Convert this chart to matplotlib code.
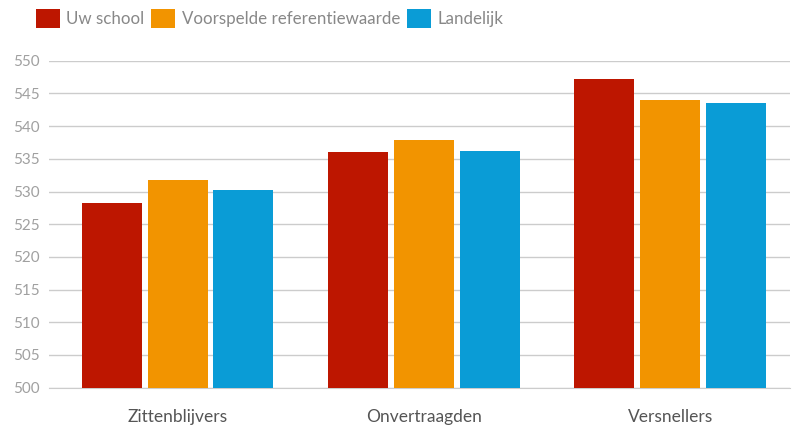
import matplotlib
matplotlib.use("Agg")
import matplotlib.pyplot as plt
import numpy as np

categories = ["Zittenblijvers", "Onvertraagden", "Versnellers"]
series_names = ["Uw school", "Voorspelde referentiewaarde", "Landelijk"]
uw_school = [528.2, 536.0, 547.2]
voorspeld = [531.7, 537.8, 544.0]
landelijk = [530.3, 536.2, 543.5]
colors = ["#BD1600", "#F29400", "#0A9CD6"]
yticks = list(range(500, 551, 5))

plt.rcParams['font.family'] = ['Lato', 'DejaVu Sans']

fig = plt.figure(figsize=(7.92, 4.28), dpi=100)
ax = fig.add_axes([49/792, 1 - 387.7/428, (790-49)/792, (387.7-60.7)/428])

x = np.arange(len(categories))
w = 0.2436
step = 0.267
for i, (vals, name, c) in enumerate(zip([uw_school, voorspeld, landelijk], series_names, colors)):
    ax.bar(x + (i - 1) * step, np.array(vals) - 500, bottom=500, width=w, color=c, label=name, zorder=3)

ax.set_xlim(-0.5217, 2.4866)
ax.set_ylim(500, 550)
ax.set_yticks(yticks)
ax.set_yticklabels([str(t) for t in yticks], color="#a0a0a0", fontsize=11)
ax.set_xticks(x)
ax.set_xticklabels(categories, color="#555555", fontsize=12.5)
ax.tick_params(axis='x', length=0, pad=15)
ax.tick_params(axis='y', length=0, pad=7)
ax.grid(axis='y', color="#cccccc", linewidth=1, zorder=0)
for s in ["top", "right", "left"]:
    ax.spines[s].set_visible(False)
ax.spines["bottom"].set_color("#cccccc")

leg = fig.legend(loc="upper left", bbox_to_anchor=(29/792, 1 - 2/428), ncol=3, frameon=False,
                 fontsize=12.2, handlelength=1.4, handleheight=1.4, handletextpad=0.4,
                 columnspacing=0.4, borderaxespad=0)
for t in leg.get_texts():
    t.set_color("#888888")

fig.savefig("out.png", dpi=100)
